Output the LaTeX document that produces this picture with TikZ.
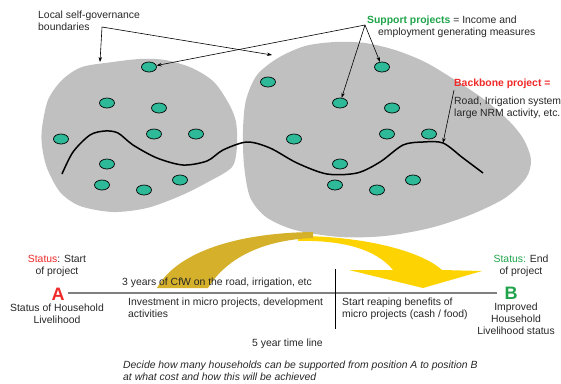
\documentclass[tikz,border=0pt]{standalone}
\usepackage{fontspec}
\setmainfont{Liberation Sans}
\usetikzlibrary{shapes.geometric,arrows.meta}

\definecolor{blobgray}{HTML}{C0C0C0}
\definecolor{projteal}{HTML}{2EBA98}
\definecolor{cfwgold}{HTML}{D5B12B}
\definecolor{cfwyellow}{HTML}{FDD302}
\definecolor{statgreen}{HTML}{1FA34A}
\definecolor{statred}{HTML}{F02828}
\definecolor{linegray}{HTML}{808080}

\tikzset{
  proj/.style={ellipse, draw, line width=0.7pt, fill=projteal, minimum width=15pt, minimum height=10pt, inner sep=0pt},
  txt/.style={font=\fontsize{10.4}{12}\selectfont, inner sep=0pt, text=black!85},
  ptr/.style={-{Stealth[length=5pt,width=3.5pt]}, line width=0.6pt},
  bigletter/.style={font=\fontsize{18}{20}\selectfont\bfseries, inner sep=0pt},
}

\begin{document}
\begin{tikzpicture}[x=1pt,y=-1pt]
\useasboundingbox (0,0) rectangle (561,383);

% the two local self-governance areas
\fill[blobgray] plot[smooth cycle] coordinates {(42,128) (48,100) (62,80) (82,67) (113,62) (140,59) (165,60) (192,68) (214,82) (229,104) (236,122) (237,146) (232,167) (208,182) (180,196) (147,208) (113,212) (80,206) (60,192) (47,168) (42,146)}; % left area
\fill[blobgray] plot[smooth cycle] coordinates {(243,130) (246,100) (257,75) (278,58) (305,46) (335,42) (365,43) (395,50) (425,62) (455,80) (485,100) (510,122) (524,140) (531,160) (526,178) (505,198) (470,215) (430,228) (385,236) (340,237) (295,230) (266,217) (250,197) (244,165)}; % right area

% backbone road
\draw[line width=1.5pt] plot[smooth] coordinates {(62,174) (73,152) (90,135) (105,131) (118,133) (133,145) (157,158) (183,165) (207,161) (223,150) (247,142) (270,148) (297,163) (327,174) (357,173) (380,162) (403,145) (423,142) (443,143) (463,158) (483,173)};

% support projects
\foreach \x/\y [count=\i] in {149/67, 107/103, 159/108, 61/139, 154/134, 196/134, 107/164, 102/185, 144/190, 180/180}
  \node[proj] (l\i) at (\x,\y) {};
\foreach \x/\y [count=\i] in {268/82, 382/67, 340/103, 392/108, 294/139, 387/134, 429/134, 340/164, 335/185, 377/190, 413/180}
  \node[proj] (r\i) at (\x,\y) {};

% labels at the top
\node[txt, anchor=north west, align=left] (boundlbl) at (38,11) {Local self-governance\\boundaries};
\coordinate (bfork) at (102,27);
\coordinate (lblobtop) at (100,62);
\coordinate (rblobtop) at (272,55);
\draw[ptr] (bfork) -- (lblobtop);
\draw[ptr] (bfork) -- (rblobtop);

\node[txt, anchor=north west, align=left] (supplbl) at (367,16) {\textcolor{statgreen}{\bfseries Support projects} = Income and\\\hspace*{11pt}employment generating measures};
\coordinate (sfork) at (365,25);
\draw[ptr] (sfork) -- (l1);
\draw[ptr] (sfork) -- (r3);
\draw[ptr] (sfork) -- (r2);

\node[txt, anchor=north west, text=statred, font=\fontsize{10.4}{12}\selectfont\bfseries] (bbtitle) at (454,79) {Backbone project =};
\node[txt, anchor=north west, align=left] (bbtext) at (454,97) {Road, Irrigation system\\large NRM activity, etc.};
\coordinate (roadpt) at (443,143);
\draw[ptr] (bbtitle.south west) ++(0,1) -- (roadpt);

% big curved arrow
\fill[cfwyellow] (298,236) .. controls (360,236) and (420,250) .. (442,270) -- (482,271) -- (423,288) -- (349,270) -- (393,270) .. controls (375,248) and (340,240) .. (298,241) -- cycle; % front part
\fill[cfwgold] (157,288) .. controls (175,255) and (230,233) .. (313,232) -- (313,238) .. controls (260,240) and (225,260) .. (208,288) -- cycle; % back part

% time line
\node[bigletter, text=statred] (ptA) at (58,294) {A};
\node[bigletter, text=statgreen] (ptB) at (511,293.5) {B};
\draw[linegray, line width=2.5pt] ([xshift=3pt]ptA.east |- 0,293) -- ([xshift=-7pt]ptB.west |- 0,293);
\draw[line width=0.6pt] (335,269) -- (335,329);

\node[txt, anchor=north, align=center] (startlbl) at (57,255) {\textcolor{statred}{Status}: Start\\of project};
\node[txt, anchor=north, align=center] (alabel) at (57,304) {Status of Household\\Livelihood};
\node[txt, anchor=north, align=center] (endlbl) at (521,255) {\textcolor{statgreen}{Status:} End\\of project};
\node[txt, anchor=north, align=center] (blabel) at (516,302.5) {Improved\\Household\\Livelihood status};

\node[txt, anchor=north west] (cfwlbl) at (122,278) {3 years of CfW on the road, irrigation, etc};
\node[txt, anchor=north west, align=left] (investlbl) at (128,298) {Investment in micro projects, development\\activities};
\node[txt, anchor=north west, align=left] (reaplbl) at (342,298) {Start reaping benefits of\\micro projects (cash / food)};
\node[txt, anchor=north west] (yearlbl) at (252,339) {5 year time line};
\node[txt, anchor=north west, align=left, font=\fontsize{10.4}{12}\selectfont\itshape] (decidelbl) at (123,361) {Decide how many households can be supported from position A to position B\\at what cost and how this will be achieved};
\end{tikzpicture}
\end{document}
